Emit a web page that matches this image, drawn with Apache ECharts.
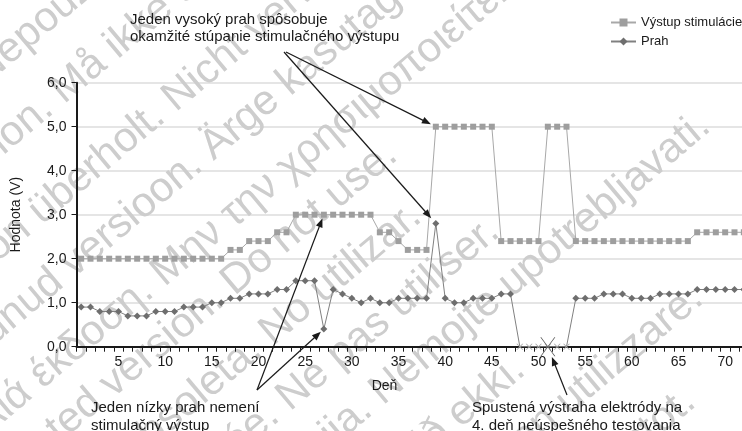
<!DOCTYPE html>
<html><head><meta charset="utf-8">
<script src="https://cdn.jsdelivr.net/npm/echarts@6/dist/echarts.min.js"></script>
<style>html,body{margin:0;padding:0;background:#fff}#c{width:742px;height:431px}</style>
</head><body><div id="c"></div>
<script>
// ---- data ----
const days = ['1','2','3','4','5','6','7','8','9','10','11','12','13','14','15','16','17','18','19','20','21','22','23','24','25','26','27','28','29','30','31','32','33','34','35','36','37','38','39','40','41','42','43','44','45','46','47','48','49','50','51','52','53','54','55','56','57','58','59','60','61','62','63','64','65','66','67','68','69','70','71','72'];
const stimulationOutput = [2.0,2.0,2.0,2.0,2.0,2.0,2.0,2.0,2.0,2.0,2.0,2.0,2.0,2.0,2.0,2.0,2.2,2.2,2.4,2.4,2.4,2.6,2.6,3.0,3.0,3.0,3.0,3.0,3.0,3.0,3.0,3.0,2.6,2.6,2.4,2.2,2.2,2.2,5.0,5.0,5.0,5.0,5.0,5.0,5.0,2.4,2.4,2.4,2.4,2.4,5.0,5.0,5.0,2.4,2.4,2.4,2.4,2.4,2.4,2.4,2.4,2.4,2.4,2.4,2.4,2.4,2.6,2.6,2.6,2.6,2.6,2.6];
const threshold = [0.9,0.9,0.8,0.8,0.8,0.7,0.7,0.7,0.8,0.8,0.8,0.9,0.9,0.9,1.0,1.0,1.1,1.1,1.2,1.2,1.2,1.3,1.3,1.5,1.5,1.5,0.4,1.3,1.2,1.1,1.0,1.1,1.0,1.0,1.1,1.1,1.1,1.1,2.8,1.1,1.0,1.0,1.1,1.1,1.1,1.2,1.2,0,0,0,0,0,0,1.1,1.1,1.1,1.2,1.2,1.2,1.1,1.1,1.1,1.2,1.2,1.2,1.2,1.3,1.3,1.3,1.3,1.3,1.3];
const xTickLabels = ['5','10','15','20','25','30','35','40','45','50','55','60','65','70'];
const seriesNames = ['Výstup stimulácie', 'Prah'];
const alertDay = '51';
const highThresholdDay = '39';
const lowThresholdDay = '27';

// watermark phrases (text, visible fragment)
const watermark = [
  ['Zastaraná verzia. Nepoužívať.', 'epouž'],
  ['Forældet version. Må ikke anvendes.', 'Må ikke'],
  ['Version überholt. Nicht verwenden.', 'Nicht'],
  ['Aegunud versioon. Ärge kasutage.', 'Ärge'],
  ['Παλιά έκδοση. Μην την χρησιμοποιείτε.', 'την'],
  ['Outdated version. Do not use.', 'not use'],
  ['Versión obsoleta. No utilizar.', 'utilizar'],
  ['Version périmée. Ne pas utiliser.', 'utiliser'],
  ['Zastarjela verzija. Nemojte upotrebljavati.', 'upotrebljavati'],
  ['Úrelt útgáfa. Notið ekki.', 'ekki'],
  ['Versione obsoleta. Non utilizzare.', 'utilizzare'],
  ['Novecojusi versija. Neizmantot.', 'ot.']
];

// ---- chart ----
const FONT = '"Liberation Sans", Arial, sans-serif';
const SMALL_X = 'path://M0,0L1.6,0L5,3.7L8.4,0L10,0L5.8,4.5L10,9L8.4,9L5,5.3L1.6,9L0,9L4.2,4.5Z';
const BIG_X = 'path://M0,0L1,0L8,9.4L15,0L16,0L8.5,10L16,20L15,20L8,10.6L1,20L0,20L7.5,10Z';
const chart = echarts.init(document.getElementById('c'), null, {renderer: 'canvas'});
const txt = '#1a1a1a';

const thresholdData = threshold.map(v => v === 0
  ? {value: v, symbol: SMALL_X, symbolSize: [7, 6], itemStyle: {color: '#a8a8a8'}}
  : v);

chart.setOption({
  animation: false,
  backgroundColor: '#fff',
  textStyle: {fontFamily: FONT},
  grid: {left: 76.5, right: -6.5, top: 82.7, bottom: 84.3, containLabel: false, outerBoundsMode: 'none'},
  legend: {
    orient: 'vertical', left: 605, top: 11, itemGap: 6, itemWidth: 25, itemHeight: 10,
    textStyle: {fontFamily: FONT, fontSize: 13, color: txt},
    data: seriesNames
  },
  xAxis: {
    type: 'category', data: days, boundaryGap: true,
    axisLine: {lineStyle: {color: '#1a1a1a', width: 2}},
    axisTick: {show: true, interval: 0, length: 5, lineStyle: {color: '#1a1a1a', width: 1}},
    axisLabel: {interval: (i, v) => xTickLabels.includes(v), color: txt, fontSize: 14, margin: 8, fontFamily: FONT},
    splitLine: {show: false},
    name: 'Deň', nameLocation: 'middle', nameGap: 32,
    nameTextStyle: {color: txt, fontSize: 14, fontFamily: FONT, padding: [0, 56, 0, 0]}
  },
  yAxis: {
    type: 'value', min: 0, max: 6, interval: 1,
    axisLine: {show: true, lineStyle: {color: '#1a1a1a', width: 2}},
    axisTick: {show: true, length: 5, lineStyle: {color: '#1a1a1a', width: 1}},
    axisLabel: {formatter: v => v.toFixed(1).replace('.', ','), color: txt, fontSize: 14, margin: 10, fontFamily: FONT},
    splitLine: {lineStyle: {color: '#dcdcdc', width: 1.5}},
    name: 'Hodnota (V)', nameLocation: 'middle', nameGap: 53,
    nameTextStyle: {color: txt, fontSize: 14, fontFamily: FONT}
  },
  series: [
    {
      name: seriesNames[0], type: 'line', data: stimulationOutput,
      symbol: 'rect', symbolSize: 6, showAllSymbol: true,
      lineStyle: {color: '#a8a8a8', width: 1}, itemStyle: {color: '#9e9e9e'}, z: 2
    },
    {
      name: seriesNames[1], type: 'line', data: thresholdData,
      symbol: 'diamond', symbolSize: 7, showAllSymbol: true,
      lineStyle: {color: '#808080', width: 1}, itemStyle: {color: '#6e6e6e'}, z: 3,
      markPoint: {
        silent: true, symbol: BIG_X, symbolSize: [15, 19],
        itemStyle: {color: '#555'}, label: {show: false},
        data: [{coord: [alertDay, 0]}]
      }
    }
  ]
});

// ---- annotations ----
function arrow(p0, p1, shorten) {
  const dx = p1[0] - p0[0], dy = p1[1] - p0[1], L = Math.hypot(dx, dy);
  const ux = dx / L, uy = dy / L;
  const tip = [p1[0] - ux * shorten, p1[1] - uy * shorten];
  const hl = 9, hw = 3.5;
  const base = [tip[0] - ux * hl, tip[1] - uy * hl];
  const l = [base[0] - uy * hw, base[1] + ux * hw], r = [base[0] + uy * hw, base[1] - ux * hw];
  return [
    {type: 'line', z: 100, silent: true, shape: {x1: p0[0], y1: p0[1], x2: base[0] + ux * 2, y2: base[1] + uy * 2}, style: {stroke: '#1a1a1a', lineWidth: 1.2}},
    {type: 'polygon', z: 100, silent: true, shape: {points: [tip, l, r]}, style: {fill: '#1a1a1a'}}
  ];
}
const px = (d, v) => chart.convertToPixel({xAxisIndex: 0, yAxisIndex: 0}, [d, v]);
const hiIdx = days.indexOf(highThresholdDay), loIdx = days.indexOf(lowThresholdDay);
const g = [];

// watermark layout: parallel lines at 40 degrees
const WM_FONT = '42px ' + FONT;
const ang = 40 * Math.PI / 180, cs = Math.cos(ang), sn = Math.sin(ang), tn = Math.tan(ang);
const ctx = document.createElement('canvas').getContext('2d');
ctx.font = WM_FONT;
const wmLines = [[58, 45], [143, 112], [245, 205], [325, 240], [410, 250], [478, 330], [560, 362], [640, 440], [712, 600], [800, 482], [878, 625], [975, 672]];
watermark.forEach(([text, frag], i) => {
  const [y0, fx] = wmLines[i];
  const fy = y0 - tn * fx;
  const idx = text.indexOf(frag);
  const d = ctx.measureText(text.slice(0, idx)).width + ctx.measureText(frag).width / 2;
  g.push({type: 'text', z: 0, silent: true, x: fx - d * cs, y: fy + d * sn, rotation: ang,
    style: {text: text, fill: '#cdcdcd', font: WM_FONT, align: 'left', verticalAlign: 'middle'}});
});

function label(text, x, y) {
  g.push({type: 'text', z: 100, silent: true, x: x, y: y,
    style: {text: text, fill: txt, font: '15px ' + FONT, lineHeight: 17.5, verticalAlign: 'top', align: 'left'}});
}
label('Jeden vysoký prah spôsobuje\nokamžité stúpanie stimulačného výstupu', 130, 11);
label('Jeden nízky prah nemení\nstimulačný výstup', 91, 399.5);
label('Spustená výstraha elektródy na\n4. deň neúspešného testovania', 472, 399.5);
g.push(...arrow([286, 52], px(highThresholdDay, stimulationOutput[hiIdx]), 5.5));
g.push(...arrow([284, 52], px(highThresholdDay, threshold[hiIdx]), 7));
g.push(...arrow([257, 390], px(lowThresholdDay, stimulationOutput[loIdx]), 4));
g.push(...arrow([257, 390], px(lowThresholdDay, threshold[loIdx]), 4));
g.push(...arrow([567, 395], px(alertDay, 0), 11));
chart.setOption({graphic: g});
</script>
</body></html>
